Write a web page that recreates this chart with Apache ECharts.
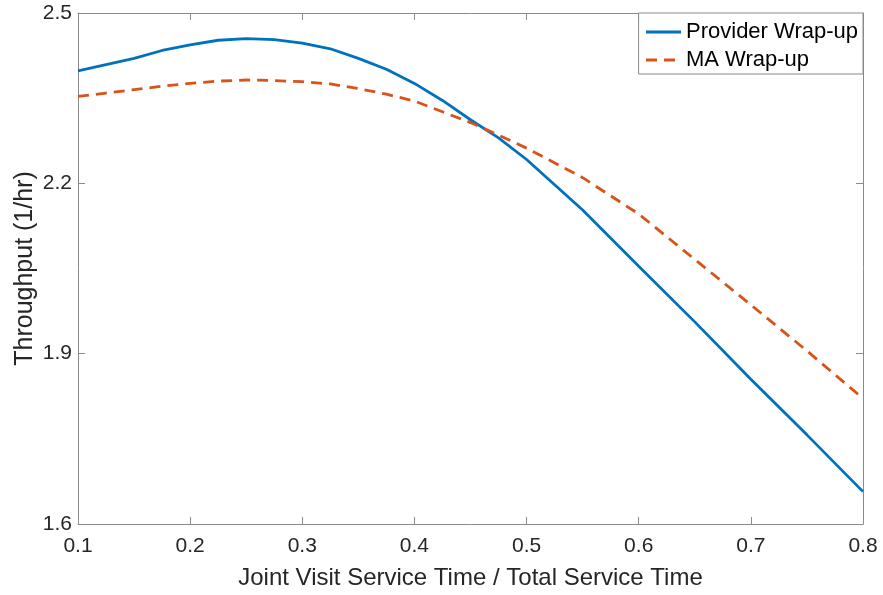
<!DOCTYPE html>
<html>
<head>
<meta charset="utf-8">
<script src="https://cdn.jsdelivr.net/npm/echarts@6/dist/echarts.min.js"></script>
<style>
  html, body { margin: 0; padding: 0; background: #fff; }
  #chart { width: 883px; height: 595px; }
</style>
</head>
<body>
<div id="chart"></div>
<script>
// Ratio of joint visit service time to total service time
const ratio = [0.1, 0.125, 0.15, 0.175, 0.2, 0.225, 0.25, 0.275, 0.3, 0.325, 0.35, 0.375, 0.4,
  0.425, 0.45, 0.475, 0.5, 0.55, 0.6, 0.65, 0.7, 0.75, 0.8];
// Throughput (1/hr) for each wrap-up policy
const providerWrapUp = [2.398, 2.409, 2.420, 2.434, 2.444, 2.452, 2.455, 2.453, 2.447, 2.437, 2.420, 2.401, 2.376,
  2.346, 2.312, 2.280, 2.242, 2.153, 2.054, 1.956, 1.855, 1.757, 1.657];
const maWrapUp = [2.353, 2.359, 2.365, 2.371, 2.376, 2.380, 2.382, 2.381, 2.379, 2.375, 2.367, 2.357, 2.345,
  2.326, 2.307, 2.285, 2.262, 2.210, 2.146, 2.066, 1.986, 1.905, 1.821];
const seriesNames = ['Provider Wrap-up', 'MA Wrap-up'];
const xLabel = 'Joint Visit Service Time / Total Service Time';
const yLabel = 'Throughput (1/hr)';

const FONT = 'Liberation Sans, Arial, Helvetica, sans-serif';
const AXIS_COLOR = '#8a8a8a';
const TEXT_COLOR = '#262626';
const BLUE = '#0072BD';
const ORANGE = '#D95319';
const LINE_WIDTH = 2.8;

const pairs = (xs, ys) => xs.map((x, i) => [x, ys[i]]);

const boxAxis = {
  axisLine: { show: true, lineStyle: { color: AXIS_COLOR, width: 1 } },
  axisTick: { show: true, inside: true, length: 7, lineStyle: { color: AXIS_COLOR } },
  splitLine: { show: false }
};

const chart = echarts.init(document.getElementById('chart'), null, { renderer: 'canvas' });
chart.setOption({
  animation: false,
  backgroundColor: '#ffffff',
  grid: { left: 78, right: 20, top: 13, bottom: 71, containLabel: false },
  legend: {
    show: true,
    orient: 'vertical',
    right: 20,
    top: 13,
    backgroundColor: '#ffffff',
    borderColor: AXIS_COLOR,
    borderWidth: 1,
    borderRadius: 0,
    padding: [8, 5, 3, 6],
    itemGap: 6,
    itemWidth: 35,
    itemHeight: 14,
    itemStyle: { opacity: 0 },
    lineStyle: { opacity: 1, width: LINE_WIDTH },
    textStyle: { fontFamily: FONT, fontSize: 22, color: '#000', lineHeight: 22 },
    data: seriesNames
  },
  xAxis: [
    Object.assign({
      type: 'value', position: 'bottom', min: 0.1, max: 0.8, interval: 0.1,
      name: xLabel, nameLocation: 'middle', nameGap: 42, nameMoveOverlap: false,
      nameTextStyle: { fontFamily: FONT, fontSize: 24, color: TEXT_COLOR },
      axisLabel: { fontFamily: FONT, fontSize: 21, color: TEXT_COLOR, margin: 12,
        formatter: v => v.toFixed(1) }
    }, boxAxis),
    Object.assign({
      type: 'value', position: 'top', min: 0.1, max: 0.8, interval: 0.1,
      axisLabel: { show: false }
    }, boxAxis)
  ],
  yAxis: [
    Object.assign({
      type: 'value', position: 'left', min: 1.6, max: 2.5, interval: 0.3,
      name: yLabel, nameLocation: 'middle', nameGap: 40, nameMoveOverlap: false,
      nameTextStyle: { fontFamily: FONT, fontSize: 25, color: TEXT_COLOR },
      axisLabel: { fontFamily: FONT, fontSize: 21, color: TEXT_COLOR, margin: 6,
        formatter: v => v.toFixed(1) }
    }, boxAxis),
    Object.assign({
      type: 'value', position: 'right', min: 1.6, max: 2.5, interval: 0.3,
      axisLabel: { show: false }
    }, boxAxis)
  ],
  series: [
    {
      name: seriesNames[0], type: 'line', xAxisIndex: 0, yAxisIndex: 0,
      data: pairs(ratio, providerWrapUp), symbol: 'none', smooth: false,
      lineStyle: { color: BLUE, width: LINE_WIDTH }, itemStyle: { color: BLUE }
    },
    {
      name: seriesNames[1], type: 'line', xAxisIndex: 0, yAxisIndex: 0,
      data: pairs(ratio, maWrapUp), symbol: 'none', smooth: false,
      lineStyle: { color: ORANGE, width: LINE_WIDTH, type: [11, 7] }, itemStyle: { color: ORANGE }
    }
  ]
});
</script>
</body>
</html>
